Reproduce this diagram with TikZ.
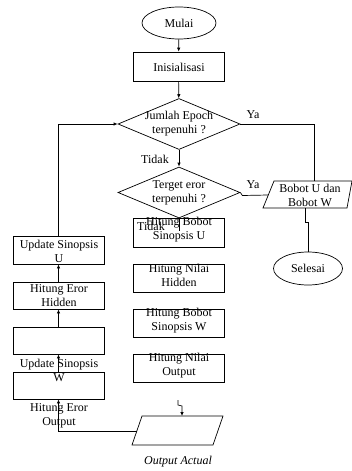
\documentclass[tikz,border=0pt]{standalone}
\usepackage{fontspec}
\setmainfont{Liberation Serif}
\usetikzlibrary{shapes.geometric,arrows.meta}
\begin{document}
\begin{tikzpicture}[x=1pt,y=-1pt,
  ln/.style={line width=0.7pt},
  arr/.style={ln,-{Latex[length=4pt,width=3.5pt]}},
  box/.style={draw,ln,rectangle,minimum width=91pt,inner sep=0pt},
  lbl/.style={align=center,inner sep=0pt,font=\fontsize{12}{14}\selectfont},
  dia/.style={draw,ln,diamond,inner sep=0pt,minimum width=122pt,minimum height=51pt},
  oval/.style={draw,ln,ellipse,inner sep=0pt}]
\useasboundingbox (0,0) rectangle (351,471);
% top column
\node[oval,minimum width=74pt,minimum height=32pt] (mulai) at (179,23) {};
\node[lbl] (tmulai) at (179,23) {Mulai};
\node[box,minimum height=29pt] (init) at (178.5,66.5) {};
\node[lbl] (tinit) at (179,67) {Inisialisasi};
\node[dia] (d1) at (179,124) {};
\node[lbl] (td1) at (179,124) {Jumlah Epoch\\terpenuhi ?};
\node[dia] (d2) at (179,192.5) {};
\node[lbl] (td2) at (179,192.5) {Terget eror\\terpenuhi ?};
\node[lbl] (tidak1) at (155,159) {Tidak};
\node[lbl] (ya1) at (253,115) {Ya};
\node[lbl] (ya2) at (253,185) {Ya};
% middle boxes
\node[box,minimum height=29pt] (hbU) at (178.5,232.5) {};
\node[lbl] (thbU) at (179,230) {Hitung Bobot\\Sinopsis U};
\node[lbl] (tidak2) at (151,226) {Tidak};
\node[box,minimum height=28pt] (hnH) at (178.5,278) {};
\node[lbl] (thnH) at (179,275.5) {Hitung Nilai\\Hidden};
\node[box,minimum height=28pt] (hbW) at (178.5,323) {};
\node[lbl] (thbW) at (179,320.5) {Hitung Bobot\\Sinopsis W};
\node[box,minimum height=28pt] (hnO) at (178.5,368) {};
\node[lbl] (thnO) at (179,366) {Hitung Nilai\\Output};
% left column
\node[box,minimum height=28pt] (updU) at (58.5,250) {};
\node[lbl] (tupdU) at (59,251) {Update Sinopsis\\U};
\node[box,minimum height=27pt] (hidB) at (58.5,295.5) {};
\node[lbl] (thidB) at (59,295.5) {Hitung Eror\\Hidden};
\node[box,minimum height=27pt] (empB) at (58.5,340.5) {};
\node[box,minimum height=27pt] (wB) at (58.5,385.5) {};
\node[lbl] (tupdW) at (59,370) {Update Sinopsis\\W};
\node[lbl] (terrO) at (59,416) {Hitung Eror\\Output};
% output parallelogram (right)
\coordinate (bTL) at (274,181);
\coordinate (bTR) at (352,181);
\coordinate (bBR) at (347,208);
\coordinate (bBL) at (263,208);
\draw[ln] (bTL) -- (bTR) -- (bBR) -- (bBL) -- cycle;
\node[lbl] (tbobot) at (310,195.5) {Bobot U dan\\Bobot W};
\node[oval,minimum width=69pt,minimum height=33pt] (selesai) at (308,268.5) {};
\node[lbl] (tselesai) at (308,268.5) {Selesai};
% output actual parallelogram
\coordinate (oTL) at (142,416);
\coordinate (oTR) at (223,416);
\coordinate (oBR) at (213,445);
\coordinate (oBL) at (132,445);
\draw[ln] (oTL) -- (oTR) -- (oBR) -- (oBL) -- cycle;
\node[lbl,font=\fontsize{12}{14}\selectfont\itshape] (toa) at (178,462) {Output Actual};
% connectors
\draw[arr] (mulai) -- (init);
\draw[arr] (init) -- (d1);
\draw[arr] (d1) -- (d2);
\coordinate (d2end) at (179,231);
\draw[ln] (d2.south) -- (d2end);
\coordinate (bTop) at (314,181);
\draw[ln] (d1.east) -| (bTop);
\coordinate (bLeft) at (268.3,195);
\draw[ln] (d2.east) -- ++(2,3) -- (bLeft);
\coordinate (bBot) at (305,208);
\draw[ln] (bBot) -- (305,222) -- (308,222) -- (selesai.north);
\coordinate (zz) at (178,400);
\coordinate (oTop) at (182,416);
\draw[arr] (zz) -- (178,405) -- (182,406) -- (oTop);
\coordinate (oLeft) at (137,431);
\draw[arr] (oLeft) -| (wB.south);
\draw[arr] (wB) -- (empB);
\draw[arr] (empB) -- (hidB);
\draw[arr] (hidB) -- (updU);
\draw[arr] (updU.north) |- (d1.west);
\end{tikzpicture}
\end{document}
